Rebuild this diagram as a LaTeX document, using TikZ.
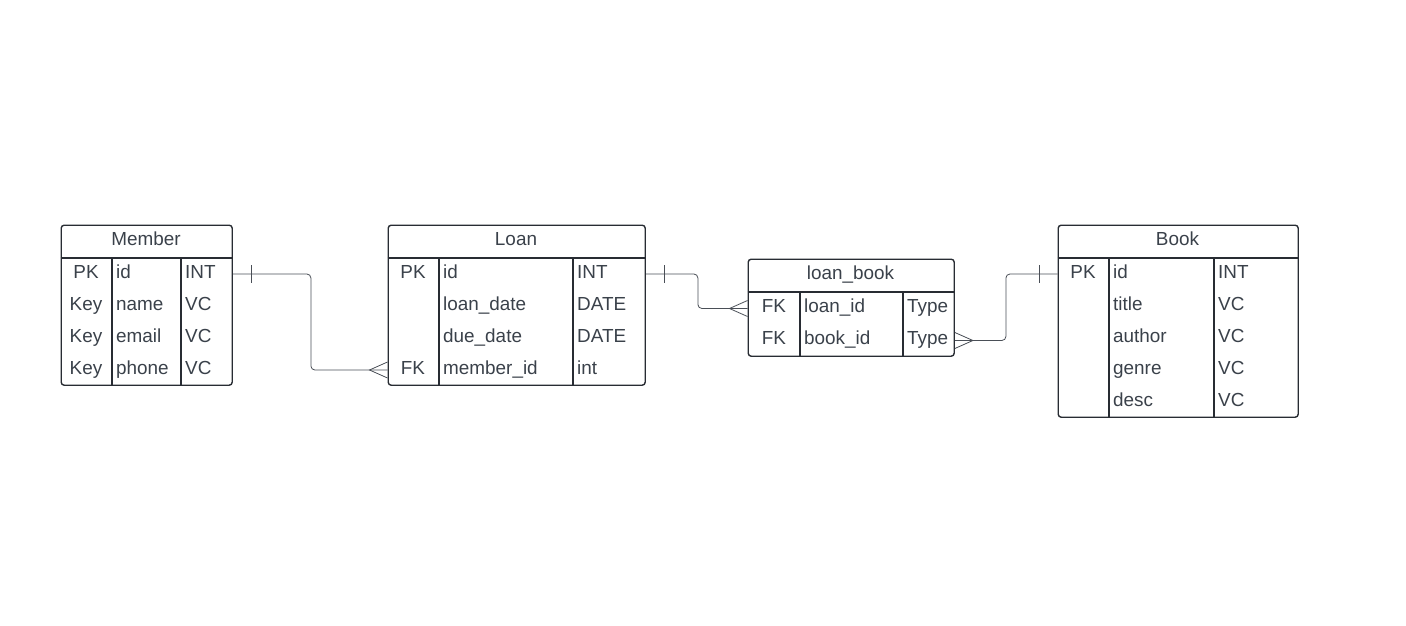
\documentclass[tikz,border=0pt]{standalone}
\usepackage{fontspec}
\setmainfont{Liberation Sans}
\usepackage{tikz}
\usetikzlibrary{positioning}
\definecolor{edgec}{HTML}{282C33}
\definecolor{textc}{HTML}{3A414A}
\definecolor{connc}{HTML}{4A4F57}
\newcommand{\field}[1]{\fontsize{18.9}{20}\selectfont #1}

\tikzset{
  entity/.style={rectangle, draw=edgec, line width=1.4pt, rounded corners=3pt,
    anchor=north west, inner sep=0pt},
  grid/.style={draw=edgec, line width=1.4pt},
  title/.style={anchor=base, inner sep=0pt, text=textc, font=\field{}},
  keycol/.style={anchor=base, inner sep=0pt, text=textc, font=\field{}},
  namecol/.style={anchor=base west, inner sep=0pt, text=textc, font=\field{}},
  conn/.style={draw=connc, line width=0.8pt},
}

\begin{document}
\begin{tikzpicture}[x=1pt, y=-1pt]
    \useasboundingbox (0,0) rectangle (1406,626);

    % Member
    \node (member) at (60.5,224.5) [entity, minimum width=171pt, minimum height=160pt] {};
    \draw[grid] (60.5,258) -- (231.5,258) (112,258) -- (112,384.5) (181,258) -- (181,384.5);
    \node (member-title) at (146,245) [title] {Member};
    \node (member-k1) at (86,278) [keycol] {PK};
    \node (member-k2) at (86,310) [keycol] {Key};
    \node (member-k3) at (86,342) [keycol] {Key};
    \node (member-k4) at (86,374) [keycol] {Key};
    \node (member-n1) at (116,278) [namecol] {id};
    \node (member-n2) at (116,310) [namecol] {name};
    \node (member-n3) at (116,342) [namecol] {email};
    \node (member-n4) at (116,374) [namecol] {phone};
    \node (member-t1) at (185,278) [namecol] {INT};
    \node (member-t2) at (185,310) [namecol] {VC};
    \node (member-t3) at (185,342) [namecol] {VC};
    \node (member-t4) at (185,374) [namecol] {VC};

    % Loan
    \node (loan) at (387.5,224.5) [entity, minimum width=257pt, minimum height=160pt] {};
    \draw[grid] (387.5,258) -- (644.5,258) (439,258) -- (439,384.5) (573,258) -- (573,384.5);
    \node (loan-title) at (516,245) [title] {Loan};
    \node (loan-k1) at (413,278) [keycol] {PK};
    \node (loan-k4) at (413,374) [keycol] {FK};
    \node (loan-n1) at (443,278) [namecol] {id};
    \node (loan-n2) at (443,310) [namecol] {loan\_date};
    \node (loan-n3) at (443,342) [namecol] {due\_date};
    \node (loan-n4) at (443,374) [namecol] {member\_id};
    \node (loan-t1) at (577,278) [namecol] {INT};
    \node (loan-t2) at (577,310) [namecol] {DATE};
    \node (loan-t3) at (577,342) [namecol] {DATE};
    \node (loan-t4) at (577,374) [namecol] {int};

    % loan_book
    \node (loanbook) at (747.5,258.5) [entity, minimum width=206pt, minimum height=97pt] {};
    \draw[grid] (747.5,292) -- (953.5,292) (800,292) -- (800,355.5) (903,292) -- (903,355.5);
    \node (loanbook-title) at (850.5,279) [title] {loan\_book};
    \node (loanbook-k1) at (774,312) [keycol] {FK};
    \node (loanbook-k2) at (774,344) [keycol] {FK};
    \node (loanbook-n1) at (804,312) [namecol] {loan\_id};
    \node (loanbook-n2) at (804,344) [namecol] {book\_id};
    \node (loanbook-t1) at (907,312) [namecol] {Type};
    \node (loanbook-t2) at (907,344) [namecol] {Type};

    % Book
    \node (book) at (1057.5,224.5) [entity, minimum width=240pt, minimum height=192pt] {};
    \draw[grid] (1057.5,258) -- (1297.5,258) (1109,258) -- (1109,416.5) (1214,258) -- (1214,416.5);
    \node (book-title) at (1177.5,245) [title] {Book};
    \node (book-k1) at (1083,278) [keycol] {PK};
    \node (book-n1) at (1113,278) [namecol] {id};
    \node (book-n2) at (1113,310) [namecol] {title};
    \node (book-n3) at (1113,342) [namecol] {author};
    \node (book-n4) at (1113,374) [namecol] {genre};
    \node (book-n5) at (1113,406) [namecol] {desc};
    \node (book-t1) at (1218,278) [namecol] {INT};
    \node (book-t2) at (1218,310) [namecol] {VC};
    \node (book-t3) at (1218,342) [namecol] {VC};
    \node (book-t4) at (1218,374) [namecol] {VC};
    \node (book-t5) at (1218,406) [namecol] {VC};

    % Member -- Loan
    \draw[conn, rounded corners=4pt] ([yshift=-49.5pt]member.north east) -- ++(78,0) |- ([yshift=-145.5pt]loan.north west);
    \draw[conn] ([yshift=-49.5pt]member.north east) ++(18,-9) -- ++(0,18);
    \draw[conn] ([yshift=-137.5pt]loan.north west) -- ++(-18,8) -- ++(18,8);

    % Loan -- loan_book
    \draw[conn, rounded corners=4pt] ([yshift=-49.5pt]loan.north east) -- ++(52,0) |- ([yshift=-50pt]loanbook.north west);
    \draw[conn] ([yshift=-49.5pt]loan.north east) ++(18,-9) -- ++(0,18);
    \draw[conn] ([yshift=-42pt]loanbook.north west) -- ++(-18,8) -- ++(18,8);

    % loan_book -- Book
    \draw[conn, rounded corners=4pt] ([yshift=-82pt]loanbook.north east) -- ++(51,0) |- ([yshift=-49.5pt]book.north west);
    \draw[conn] ([yshift=-49.5pt]book.north west) ++(-18,-9) -- ++(0,18);
    \draw[conn] ([yshift=-74pt]loanbook.north east) -- ++(18,8) -- ++(-18,8);
\end{tikzpicture}
\end{document}
